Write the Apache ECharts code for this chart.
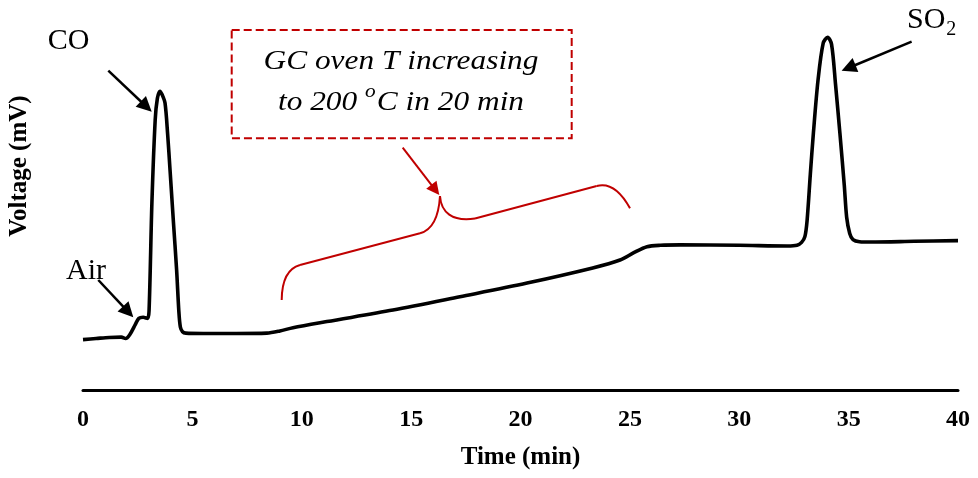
<!DOCTYPE html>
<html><head><meta charset="utf-8">
<script src="https://cdn.jsdelivr.net/npm/echarts@6/dist/echarts.min.js"></script>
<style>html,body{margin:0;padding:0;background:#fff}#c{width:978px;height:478px}</style>
</head><body><div id="c"></div>
<script>
// ---- data (time in min, detector signal in arbitrary mV units) ----
const time = [0, 0.6, 1.2, 1.75, 1.95, 2.15, 2.4, 2.55, 2.75, 2.95, 3.02, 3.15, 3.3, 3.4, 3.52, 3.62, 3.75, 3.87, 3.98, 4.13, 4.28, 4.38, 4.45, 4.55, 4.7, 5.5, 7, 8.4, 9.0, 9.6, 11.15, 14.17, 17.23, 20.3, 23.3, 24.55, 25.2, 25.78, 26.4, 27.3, 30, 32.2, 32.64, 32.85, 33.0, 33.1, 33.25, 33.39, 33.6, 33.84, 34.04, 34.22, 34.4, 34.6, 34.8, 34.91, 35.05, 35.2, 35.5, 36, 38, 40];
const voltage = [14.0, 14.3, 14.6, 14.7, 14.3, 15.5, 18.3, 19.9, 20.2, 19.9, 22, 52, 75, 81, 83, 82, 79.7, 71, 61, 47, 33.3, 22, 17.5, 16.2, 15.8, 15.7, 15.7, 15.8, 16.4, 17.3, 19.0, 22.2, 25.9, 29.7, 33.9, 36.1, 38.2, 39.8, 40.2, 40.3, 40.2, 40.0, 40.2, 41.0, 42.6, 47, 60, 71.4, 86, 96.4, 98, 96, 85, 71.4, 57, 48, 43.5, 41.8, 41.2, 41.1, 41.3, 41.5];
const xTickInterval = 5;
const xMin = 0, xMax = 40, yMin = 0, yMax = 100;

// ---- annotation anchors, in data units [time, voltage] ----
const labelCO = [-0.663, 96.78];
const labelAir = [0.137, 32.89];
const labelSO = [37.669, 102.78];
const arrowCO = [[1.157, 88.69], [3.141, 77.31]];
const arrowAir = [[0.699, 30.56], [2.299, 20.19]];
const arrowSO2 = [[37.88, 96.75], [34.68, 88.69]];
const boxCorners = [[6.798, 100], [22.34, 69.92]];
const boxLine1 = [14.537, 91.3];
const boxLine2 = [14.537, 79.7];
const arrowRed = [[14.615, 67.31], [16.288, 54.17]];
const brace = {
  start: [9.083, 25], c1: [9.097, 33.33], p1: [9.92, 34.72], p2: [15.406, 43.53],
  c2: [16.229, 44.86], tip: [16.32, 53.89], c3a: [16.366, 49.44], c3b: [16.869, 46.67],
  p3: [17.92, 47.64], p4: [23.483, 56.67], c4: [24.32, 58.06], end: [25.006, 50.47]
};
const yTitleAnchor = [-2.9, 62.2];

const serif = '"Liberation Serif","Times New Roman",serif';
const RED = '#C00000';

const chart = echarts.init(document.getElementById('c'), null, {renderer: 'canvas'});
chart.setOption({
  animation: false,
  backgroundColor: '#fff',
  grid: {left: 83, right: 20, top: 30, bottom: 88},
  xAxis: {
    type: 'value', min: xMin, max: xMax, interval: xTickInterval,
    axisLine: {show: true, onZero: false, lineStyle: {color: '#000', width: 3}},
    axisTick: {show: false}, splitLine: {show: false},
    axisLabel: {color: '#000', fontFamily: serif, fontWeight: 'bold', fontSize: 24, margin: 18},
    name: 'Time (min)', nameLocation: 'middle', nameGap: 55,
    nameTextStyle: {color: '#000', fontFamily: serif, fontWeight: 'bold', fontSize: 25}
  },
  yAxis: {
    type: 'value', min: yMin, max: yMax,
    axisLine: {show: false}, axisTick: {show: false}, axisLabel: {show: false}, splitLine: {show: false}
  },
  series: [{
    type: 'line', data: time.map((t, i) => [t, voltage[i]]),
    showSymbol: false, smooth: 0.3, silent: true,
    lineStyle: {color: '#000', width: 3.6}
  }]
});

const P = d => chart.convertToPixel({gridIndex: 0}, d);
const ctx = document.createElement('canvas').getContext('2d');
function measure(txt, font) { ctx.font = font; return ctx.measureText(txt).width; }

function arrow(a, b, color, lw, hl, hw) {
  const p0 = P(a), p1 = P(b);
  const dx = p1[0] - p0[0], dy = p1[1] - p0[1];
  const L = Math.hypot(dx, dy), ux = dx / L, uy = dy / L;
  const bx = p1[0] - ux * hl, by = p1[1] - uy * hl;
  return [
    {type: 'line', silent: true, shape: {x1: p0[0], y1: p0[1], x2: bx + ux * 2, y2: by + uy * 2},
     style: {stroke: color, lineWidth: lw}},
    {type: 'polygon', silent: true, shape: {points: [[p1[0], p1[1]], [bx - uy * hw, by + ux * hw], [bx + uy * hw, by - ux * hw]]},
     style: {fill: color}}
  ];
}
function txt(x, y, str, font, align, sx) {
  return {type: 'text', silent: true, x: x, y: y, scaleX: sx || 1,
    style: {text: str, font: font, fill: '#000', align: align, verticalAlign: 'middle'}};
}

const els = [];
const f30 = '30px ' + serif;
let p = P(labelCO); els.push(txt(p[0], p[1], 'CO', f30, 'center'));
p = P(labelAir); els.push(txt(p[0], p[1], 'Air', f30, 'center'));
// SO2 with subscript
const soP = P(labelSO);
els.push(txt(soP[0], soP[1], 'SO', f30, 'left'));
els.push(txt(soP[0] + measure('SO', f30) + 1, soP[1] + 10, '2', '20px ' + serif, 'left'));

els.push(...arrow(arrowCO[0], arrowCO[1], '#000', 2.5, 15, 7.5));
els.push(...arrow(arrowAir[0], arrowAir[1], '#000', 2.5, 15, 7.5));
els.push(...arrow(arrowSO2[0], arrowSO2[1], '#000', 2.5, 15, 7.5));

// dashed box
const b0 = P(boxCorners[0]), b1 = P(boxCorners[1]);
els.push({type: 'rect', silent: true, shape: {x: b0[0], y: b0[1], width: b1[0] - b0[0], height: b1[1] - b0[1]},
  style: {stroke: RED, fill: null, lineWidth: 2, lineDash: [8, 4]}});
const SX = 1.12;
const fi = 'italic 28px ' + serif, fs = 'italic 19px ' + serif;
p = P(boxLine1); els.push(txt(p[0], p[1], 'GC oven T increasing', fi, 'center', SX));
// line 2 with superscript o
const l2 = P(boxLine2);
const A = 'to 200 ', B = 'o', C = 'C in 20 min';
const wA = measure(A, fi) * SX, wB = (measure(B, fs) + 1) * SX, wC = measure(C, fi) * SX;
const sx0 = l2[0] - (wA + wB + wC) / 2;
els.push(txt(sx0, l2[1], A, fi, 'left', SX));
els.push(txt(sx0 + wA, l2[1] - 11, B, fs, 'left', SX));
els.push(txt(sx0 + wA + wB, l2[1], C, fi, 'left', SX));

els.push(...arrow(arrowRed[0], arrowRed[1], RED, 2, 13, 6.5));

// curly brace built from curve segments
const q = k => P(brace[k]);
const bs = {stroke: RED, fill: null, lineWidth: 2};
function quad(a, c, b) { a = q(a); c = q(c); b = q(b);
  return {type: 'bezierCurve', silent: true, shape: {x1: a[0], y1: a[1], cpx1: c[0], cpy1: c[1], x2: b[0], y2: b[1]}, style: bs}; }
function cubic(a, c1, c2, b) { a = q(a); c1 = q(c1); c2 = q(c2); b = q(b);
  return {type: 'bezierCurve', silent: true, shape: {x1: a[0], y1: a[1], cpx1: c1[0], cpy1: c1[1], cpx2: c2[0], cpy2: c2[1], x2: b[0], y2: b[1]}, style: bs}; }
function seg(a, b) { a = q(a); b = q(b);
  return {type: 'line', silent: true, shape: {x1: a[0], y1: a[1], x2: b[0], y2: b[1]}, style: bs}; }
els.push(quad('start', 'c1', 'p1'), seg('p1', 'p2'), quad('p2', 'c2', 'tip'),
  cubic('tip', 'c3a', 'c3b', 'p3'), seg('p3', 'p4'), quad('p4', 'c4', 'end'));

// y-axis title
const yt = P(yTitleAnchor);
els.push({type: 'text', silent: true, x: yt[0], y: yt[1], rotation: Math.PI / 2,
  style: {text: 'Voltage (mV)', font: 'bold 25px ' + serif, fill: '#000', align: 'center', verticalAlign: 'middle'}});

chart.setOption({graphic: {elements: els}});
</script>
</body></html>
